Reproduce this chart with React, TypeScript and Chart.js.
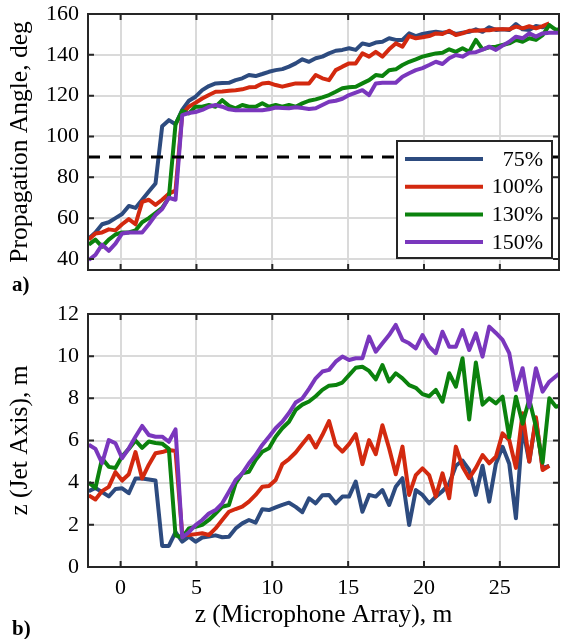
import React, { useEffect, useRef } from 'react';
import { Chart, registerables } from 'chart.js';

Chart.register(...registerables);

// ---------------- data ----------------
const Z_MIC = [
  -2.1, -1.66, -1.22, -0.78, -0.34, 0.1, 0.54, 0.98, 1.42, 1.86,
  2.3, 2.74, 3.18, 3.62, 4.06, 4.5, 4.94, 5.38, 5.82, 6.26,
  6.7, 7.14, 7.58, 8.02, 8.46, 8.9, 9.34, 9.78, 10.22, 10.66,
  11.1, 11.54, 11.98, 12.42, 12.86, 13.3, 13.74, 14.18, 14.62, 15.06,
  15.5, 15.94, 16.38, 16.82, 17.26, 17.7, 18.14, 18.58, 19.02, 19.46,
  19.9, 20.34, 20.78, 21.22, 21.66, 22.1, 22.54, 22.98, 23.42, 23.86,
  24.3, 24.74, 25.18, 25.62, 26.06, 26.5, 26.94, 27.38, 27.82, 28.26,
  28.7, 29.14,
];

const SERIES_LABELS = ['75%', '100%', '130%', '150%'];
const SERIES_COLORS = ['#2D4B7F', '#D3290F', '#0B820D', '#7A37BD'];

// Propagation angle, deg
const ANGLE_75 = [
  50, 53, 57, 58, 60, 62, 66, 65, 69, 73,
  77, 105, 108, 106, 113, 117.5, 119.5, 122.7, 124.7, 126,
  126.2, 126.3, 127.6, 128.5, 130.1, 129.6, 130.6, 131.7, 132.5, 133,
  134.2, 135.8, 137.8, 136.6, 138.3, 139.1, 140.7, 142, 142.4, 143.2,
  142.4, 145.6, 144.8, 146, 146.4, 148.1, 147.3, 147.3, 150.5, 149.2,
  150.2, 150.8, 151.3, 150.8, 151.3, 150.2, 150.8, 151.3, 152.5, 151.3,
  153.5, 152.2, 152.5, 152.2, 155.1, 152.5, 152.2, 154.1, 153.5, 154.6,
  null, null,
];
const ANGLE_100 = [
  49.5, 52.5, 53, 54.5, 54, 57, 59.5, 57, 68, 69,
  66.5, 69, 72, 73.5, 111, 114.6, 116.5, 118.6, 120.3, 121.9,
  122, 122.4, 122.7, 123.1, 124.1, 124.3, 126, 126.3, 125.2, 124.4,
  125.2, 126, 126, 126, 130.1, 128.5, 127.6, 132.5, 134.2, 135.8,
  135.8, 140.7, 139.1, 141.5, 139.1, 142.7, 145.6, 144, 149.2, 148.1,
  148.6, 149.2, 150.5, 150.2, 151.8, 149.7, 150.5, 151.8, 151.8, 152,
  152, 152.5, 152.5, 152.5, 153.8, 153, 154, 153, 154.1, 155.4,
  null, null,
];
const ANGLE_130 = [
  47, 49.5, 46, 49.5, 52, 53, 53, 54, 58, 60,
  62.5, 65, 70, 106, 112.5, 111.3, 114.6, 114.6, 115.4, 114.6,
  117.8, 115, 113.8, 115.4, 114.6, 114.6, 116.3, 114.6, 115.4, 114.6,
  115.4, 114.6, 116.2, 117.5, 118.2, 119.2, 120.3, 121.9, 123.6, 124.1,
  124.4, 126, 127.6, 130.1, 129.6, 132.5, 132.9, 135, 136.6, 137.8,
  139.1, 139.9, 140.7, 141, 142.7, 141.5, 143.2, 141.5, 147.3, 142.7,
  143.7, 144, 144.8, 145.6, 147.3, 146.4, 148.1, 147.3, 149.7, 154.6,
  152.2, 153,
];
const ANGLE_150 = [
  39.5, 42, 47, 44, 47.5, 52.5, 53, 53, 53, 57,
  61.5, 64.5, 70, 69, 110.5, 111.5, 112, 113, 114.6, 115.4,
  114.6, 113.3, 112.9, 112.9, 112.9, 112.9, 112.9, 113.3, 114.2, 114,
  113.8, 114.3, 114, 113.5, 113.8, 115.4, 117, 117.5, 118.5, 120.3,
  121.5, 122.7, 120.3, 126, 126.3, 126.3, 126.3, 129.3, 131, 132.5,
  133.5, 135, 136.6, 135.5, 138.3, 139.9, 139.1, 141, 141.3, 142.5,
  144, 142.4, 144.5, 146.4, 148.9, 148.1, 150.5, 148.9, 150.5, 150.8,
  150.8, 150.8,
];

// z along jet axis, m
const JET_75 = [
  3.6, 3.75, 3.55, 3.35, 3.7, 3.73, 3.5, 4.2, 4.2, 4.15,
  4.1, 1.0, 1.0, 1.65, 1.2, 1.44, 1.2, 1.4, 1.45, 1.5,
  1.41, 1.44, 1.83, 2.07, 2.23, 2.1, 2.74, 2.7, 2.83, 2.95,
  3.05, 2.85, 2.6, 3.26, 3.02, 3.4, 3.42, 3.02, 3.34, 3.34,
  4.05, 2.62, 3.42, 3.34, 3.65, 2.94, 3.81, 4.21, 1.99, 3.65,
  3.42, 3.02, 3.34, 3.6, 3.95, 4.8, 5.05, 4.6, 3.42, 4.8,
  3.1, 4.9, 5.7, 4.9, 2.31, 6.6, 5.0, 7.0, 4.7, 4.8,
  null, null,
];
const JET_100 = [
  3.4, 3.2, 3.6, 3.8, 4.5, 4.1, 4.4, 5.45, 4.2, 4.85,
  5.4, 5.45, 5.55, 5.5, 1.55, 1.52, 1.56, 1.6, 1.52, 1.83,
  2.23, 2.62, 2.75, 2.86, 3.1, 3.42, 3.81, 3.84, 4.13, 4.88,
  5.12, 5.43, 5.83, 6.22, 5.67, 6.26, 6.92, 5.79, 5.47, 5.83,
  6.3, 4.88, 6.02, 5.35, 6.72, 5.63, 4.4, 5.71, 3.42, 4.36,
  4.68, 4.36, 3.34, 4.44, 3.26, 5.71, 4.76, 4.21, 4.7, 5.31,
  4.92, 5.23, 6.34, 6.02, 4.7, 7.29, 5.0, 7.1, 4.6, 4.8,
  null, null,
];
const JET_130 = [
  4.0, 3.75, 5.15, 4.75, 4.7, 5.25, 5.6, 6.0, 5.65, 5.95,
  5.88, 5.85, 5.6, 1.5, 1.4, 1.83, 1.91, 2.0, 2.23, 2.54,
  2.86, 2.94, 3.97, 4.44, 4.52, 5.08, 5.47, 5.63, 6.18, 6.58,
  6.89, 7.45, 7.7, 7.85, 8.1, 8.4, 8.6, 8.63, 8.75, 9.1,
  9.45, 9.5, 9.3, 8.9, 9.58, 8.8, 9.19, 8.95, 8.63, 8.5,
  8.2, 8.1, 8.4, 7.84, 9.19, 8.55, 9.9, 7.0, 9.7, 7.7,
  8.0, 7.76, 8.08, 6.15, 8.08, 6.8, 7.95, 6.65, 4.95, 8.0,
  7.6, 7.7,
];
const JET_150 = [
  5.8, 5.6, 4.92, 6.02, 5.87, 5.16, 5.63, 6.18, 6.69, 6.26,
  6.18, 6.18, 5.94, 6.53, 1.4, 1.65, 1.99, 2.23, 2.54, 2.7,
  3.02, 3.57, 4.13, 4.44, 4.92, 5.31, 5.79, 6.18, 6.58, 6.89,
  7.3, 7.8, 8.0, 8.45, 8.95, 9.27, 9.35, 9.74, 9.98, 9.82,
  9.9, 9.9, 10.93, 10.21, 10.61, 11.0, 11.48, 10.77, 10.61, 10.37,
  11.0, 10.45, 10.14, 11.16, 10.45, 10.45, 11.24, 10.29, 11.08, 9.98,
  11.4, 11.1, 10.77, 10.14, 8.4, 9.43, 7.6, 9.43, 8.32, 8.79,
  9.05, 9.3,
];

const ANGLE_SERIES = [ANGLE_75, ANGLE_100, ANGLE_130, ANGLE_150];
const JET_SERIES = [JET_75, JET_100, JET_130, JET_150];

const X_TICKS = [0, 5, 10, 15, 20, 25];
const ANGLE_TICKS = [40, 60, 80, 100, 120, 140, 160];
const JET_TICKS = [0, 2, 4, 6, 8, 10, 12];
const REF_ANGLE = 90;

const X_MIN = -2.15;
const X_MAX = 28.9;
const ANGLE_MIN = 34.6;
const ANGLE_MAX = 160;
const JET_MIN = 0;
const JET_MAX = 12;

const TOP_Y_TITLE = 'Propagation Angle, deg';
const BOT_Y_TITLE = 'z (Jet Axis), m';
const BOT_X_TITLE = 'z (Microphone Array), m';

// ---------------- styles ----------------
const FONT = "'Liberation Serif', 'Times New Roman', Times, serif";
const TEXT = '#000000';
const FRAME = '#262626';
const GRID = '#dadada';
const TICK_SIZE = 22;
const TITLE_SIZE = 25.5;

function toPoints(values: (number | null)[]) {
  return Z_MIC.map((z, i) => ({ x: z, y: values[i] }));
}

function seriesDatasets(all: (number | null)[][]) {
  return all.map((vals, k) => ({
    label: SERIES_LABELS[k],
    data: toPoints(vals),
    borderColor: SERIES_COLORS[k],
    backgroundColor: SERIES_COLORS[k],
    borderWidth: 4,
    pointRadius: 0,
    tension: 0,
    fill: false,
    spanGaps: false,
    borderJoinStyle: 'round' as const,
    order: 4 - k,
    clip: 1,
  }));
}

const framePlugin = {
  id: 'frameBox',
  afterDraw(chart: any) {
    const { ctx, chartArea, scales } = chart;
    const { left, right, top, bottom } = chartArea;
    const L = 6;
    ctx.save();
    ctx.strokeStyle = FRAME;
    ctx.lineWidth = 2;
    ctx.beginPath();
    for (const t of scales.x.ticks) {
      const x = scales.x.getPixelForValue(t.value);
      ctx.moveTo(x, bottom);
      ctx.lineTo(x, bottom - L);
      ctx.moveTo(x, top);
      ctx.lineTo(x, top + L);
    }
    for (const t of scales.y.ticks) {
      const y = scales.y.getPixelForValue(t.value);
      ctx.moveTo(left, y);
      ctx.lineTo(left + L, y);
      ctx.moveTo(right, y);
      ctx.lineTo(right - L, y);
    }
    ctx.stroke();
    ctx.strokeRect(left, top, right - left, bottom - top);
    ctx.restore();
  },
};

const legendPlugin = {
  id: 'boxLegend',
  afterDraw(chart: any) {
    const { ctx, chartArea } = chart;
    const w = 155;
    const h = 117;
    const x0 = chartArea.right - 7 - w;
    const y0 = chartArea.bottom - 12 - h;
    ctx.save();
    ctx.fillStyle = '#ffffff';
    ctx.fillRect(x0, y0, w, h);
    ctx.strokeStyle = FRAME;
    ctx.lineWidth = 2;
    ctx.strokeRect(x0, y0, w, h);
    const items = chart.data.datasets.filter((d: any) => !String(d.label).startsWith('_'));
    items.forEach((d: any, k: number) => {
      const y = y0 + 18 + k * 27.7;
      ctx.strokeStyle = d.borderColor;
      ctx.lineWidth = 4;
      ctx.beginPath();
      ctx.moveTo(x0 + 8, y);
      ctx.lineTo(x0 + 86, y);
      ctx.stroke();
      ctx.fillStyle = TEXT;
      ctx.font = `${TICK_SIZE}px ${FONT}`;
      ctx.textAlign = 'right';
      ctx.textBaseline = 'middle';
      ctx.fillText(d.label, x0 + 146, y + 1);
    });
    ctx.restore();
  },
};

function setTicks(values: number[]) {
  return (scale: any) => {
    scale.ticks = values.map((v) => ({ value: v }));
  };
}

function fixWidth(w: number) {
  return (s: any) => {
    s.width = w;
    s.paddingTop = 0;
    s.paddingBottom = 0;
    s.paddingLeft = 0;
    s.paddingRight = 0;
  };
}

function fixHeight(h: number) {
  return (s: any) => {
    s.height = h;
    s.paddingTop = 0;
    s.paddingBottom = 0;
    s.paddingLeft = 0;
    s.paddingRight = 0;
  };
}

function yTitle(text: string) {
  return {
    display: true,
    text,
    font: { family: FONT, size: TITLE_SIZE },
    color: TEXT,
    padding: { top: 5, bottom: 0 },
  };
}

function topConfig(): any {
  return {
    type: 'line',
    data: {
      datasets: [
        ...seriesDatasets(ANGLE_SERIES),
        {
          label: '_ref',
          data: [
            { x: X_MIN, y: REF_ANGLE },
            { x: X_MAX, y: REF_ANGLE },
          ],
          borderColor: '#000000',
          borderWidth: 3,
          borderDash: [12, 9],
          pointRadius: 0,
          order: 0,
        },
      ],
    },
    options: {
      responsive: false,
      animation: false,
      devicePixelRatio: 1,
      layout: { autoPadding: false, padding: { top: 14, right: 2, bottom: 0, left: 0 } },
      plugins: { legend: { display: false }, tooltip: { enabled: false } },
      scales: {
        x: {
          type: 'linear',
          min: X_MIN,
          max: X_MAX,
          afterBuildTicks: setTicks(X_TICKS),
          ticks: { display: false },
          grid: { color: GRID, lineWidth: 2, drawTicks: false },
          border: { display: false },
          afterFit: fixHeight(30),
        },
        y: {
          type: 'linear',
          min: ANGLE_MIN,
          max: ANGLE_MAX,
          afterBuildTicks: setTicks(ANGLE_TICKS),
          ticks: { font: { family: FONT, size: TICK_SIZE }, color: TEXT, padding: 9 },
          grid: { color: GRID, lineWidth: 2, drawTicks: false },
          border: { display: false },
          title: yTitle(TOP_Y_TITLE),
          afterFit: fixWidth(88),
        },
      },
    },
    plugins: [framePlugin, legendPlugin],
  };
}

function bottomConfig(): any {
  return {
    type: 'line',
    data: { datasets: seriesDatasets(JET_SERIES) },
    options: {
      responsive: false,
      animation: false,
      devicePixelRatio: 1,
      layout: { autoPadding: false, padding: { top: 14, right: 2, bottom: 0, left: 0 } },
      plugins: { legend: { display: false }, tooltip: { enabled: false } },
      scales: {
        x: {
          type: 'linear',
          min: X_MIN,
          max: X_MAX,
          afterBuildTicks: setTicks(X_TICKS),
          ticks: { font: { family: FONT, size: TICK_SIZE }, color: TEXT, padding: 8 },
          grid: { color: GRID, lineWidth: 2, drawTicks: false },
          border: { display: false },
          title: {
            display: true,
            text: BOT_X_TITLE,
            font: { family: FONT, size: TITLE_SIZE },
            color: TEXT,
            padding: { top: 0, bottom: 8 },
          },
          afterFit: fixHeight(72),
        },
        y: {
          type: 'linear',
          min: JET_MIN,
          max: JET_MAX,
          afterBuildTicks: setTicks(JET_TICKS),
          ticks: { font: { family: FONT, size: TICK_SIZE }, color: TEXT, padding: 9 },
          grid: { color: GRID, lineWidth: 2, drawTicks: false },
          border: { display: false },
          title: yTitle(BOT_Y_TITLE),
          afterFit: fixWidth(88),
        },
      },
    },
    plugins: [framePlugin],
  };
}

export default function App() {
  const topRef = useRef<HTMLCanvasElement>(null);
  const botRef = useRef<HTMLCanvasElement>(null);

  useEffect(() => {
    const c1 = new Chart(topRef.current as HTMLCanvasElement, topConfig());
    const c2 = new Chart(botRef.current as HTMLCanvasElement, bottomConfig());
    return () => {
      c1.destroy();
      c2.destroy();
    };
  }, []);

  const panelLabel: React.CSSProperties = {
    position: 'absolute',
    left: 12,
    font: `bold 21px ${FONT}`,
    lineHeight: '21px',
    color: TEXT,
    whiteSpace: 'nowrap',
  };

  return (
    <div
      style={{
        position: 'absolute',
        left: 0,
        top: 0,
        width: 561,
        height: 639,
        background: '#ffffff',
        overflow: 'hidden',
      }}
    >
      <canvas ref={topRef} width={561} height={300} style={{ position: 'absolute', left: 0, top: 0 }} />
      <canvas ref={botRef} width={561} height={339} style={{ position: 'absolute', left: 0, top: 300 }} />
      <div style={{ ...panelLabel, top: 274 }}>a)</div>
      <div style={{ ...panelLabel, top: 618 }}>b)</div>
    </div>
  );
}
